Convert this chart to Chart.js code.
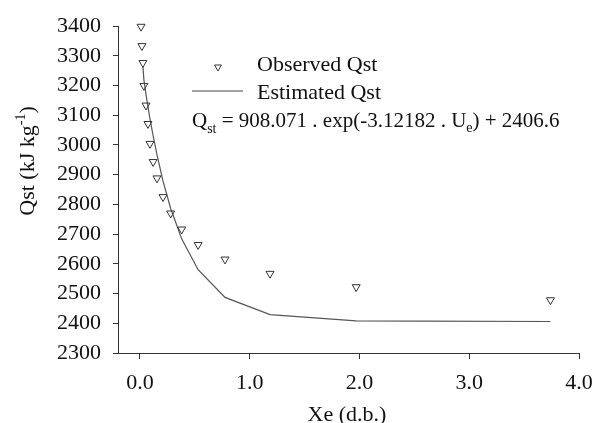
<!DOCTYPE html>
<html>
<head>
<meta charset="utf-8">
<script src="https://cdn.jsdelivr.net/npm/chart.js@4/dist/chart.umd.min.js"></script>
<style>
  html, body { margin: 0; padding: 0; background: #fff; }
  #wrap { width: 597px; height: 423px; }
</style>
</head>
<body>
<div id="wrap"><canvas id="chart" width="597" height="423"></canvas></div>
<script>
// values
const observedX = [0.01, 0.018, 0.027, 0.036, 0.055, 0.073, 0.091, 0.12, 0.155, 0.21, 0.28, 0.38, 0.53, 0.775, 1.185, 1.97, 3.74];
const observedY = [3398, 3333, 3276, 3199, 3133, 3071, 3004, 2943, 2888, 2825, 2770, 2716, 2664, 2615, 2567, 2522, 2478];
const estimatedX = [0.027, 0.036, 0.055, 0.073, 0.091, 0.12, 0.155, 0.21, 0.28, 0.38, 0.53, 0.775, 1.185, 1.97, 2.56, 3.74];
const estimatedY = [3265, 3218, 3170, 3128, 3088, 3031, 2967, 2878, 2786, 2684, 2580, 2487, 2429, 2408, 2407, 2406];
const xTicks = [0, 1, 2, 3, 4];
const yTicks = [2300, 2400, 2500, 2600, 2700, 2800, 2900, 3000, 3100, 3200, 3300, 3400];

const serif = '"Liberation Serif", "DejaVu Serif", serif';
const textColor = '#111';
const axisColor = '#333';

// legend, equation and axis titles (superscripts/subscripts) drawn on top
const labelsPlugin = {
  id: 'labels',
  afterDraw(chart) {
    const ctx = chart.ctx;
    ctx.save();
    ctx.fillStyle = textColor;
    ctx.textBaseline = 'alphabetic';
    ctx.textAlign = 'left';

    // legend: observed
    ctx.strokeStyle = axisColor;
    ctx.lineWidth = 1;
    const tx = 218, ty = 67, r = 4;
    ctx.beginPath();
    ctx.moveTo(tx - r * 0.87, ty - r * 0.5);
    ctx.lineTo(tx + r * 0.87, ty - r * 0.5);
    ctx.lineTo(tx, ty + r);
    ctx.closePath();
    ctx.stroke();
    ctx.font = '22px ' + serif;
    ctx.fillText('Observed Qst', 257, 71);

    // legend: estimated
    ctx.strokeStyle = '#444';
    ctx.lineWidth = 1.2;
    ctx.beginPath();
    ctx.moveTo(192, 91);
    ctx.lineTo(243, 91);
    ctx.stroke();
    ctx.fillText('Estimated Qst', 257, 99);

    // equation
    let x = 192;
    const base = 127;
    const big = '21px ' + serif, small = '14px ' + serif;
    const parts = [
      ['Q', big, 0], ['st', small, 6], [' = 908.071 . exp(-3.12182 . U', big, 0],
      ['e', small, 5], [') + 2406.6', big, 0],
    ];
    parts.forEach(([t, f, dy]) => {
      ctx.font = f;
      ctx.fillText(t, x, base + dy);
      x += ctx.measureText(t).width;
    });

    // x title
    ctx.font = '22px ' + serif;
    ctx.textAlign = 'center';
    ctx.fillText('Xe (d.b.)', 347, 421);

    // y title, rotated, with superscript
    ctx.translate(34, 161);
    ctx.rotate(-Math.PI / 2);
    const ySegs = [['Qst (kJ kg', '22px ' + serif, 0], ['-1', '14px ' + serif, -9], [')', '22px ' + serif, 0]];
    let w = 0;
    ySegs.forEach(([t, f]) => { ctx.font = f; w += ctx.measureText(t).width; });
    let px = -w / 2;
    ctx.textAlign = 'left';
    ySegs.forEach(([t, f, dy]) => {
      ctx.font = f;
      ctx.fillText(t, px, dy);
      px += ctx.measureText(t).width;
    });
    ctx.restore();
  },
};

new Chart(document.getElementById('chart'), {
  type: 'scatter',
  data: {
    datasets: [
      {
        label: 'Observed Qst',
        data: observedX.map((x, i) => ({ x, y: observedY[i] })),
        pointStyle: 'triangle',
        rotation: 180,
        pointRadius: 4.6,
        pointBorderWidth: 1,
        borderColor: axisColor,
        backgroundColor: 'rgba(255,255,255,0)',
        showLine: false,
        clip: false,
      },
      {
        label: 'Estimated Qst',
        data: estimatedX.map((x, i) => ({ x, y: estimatedY[i] })),
        showLine: true,
        pointRadius: 0,
        borderColor: '#555',
        borderWidth: 1.2,
        tension: 0,
      },
    ],
  },
  options: {
    responsive: false,
    animation: false,
    layout: { padding: { top: 26, right: 18, left: 0, bottom: 0 } },
    plugins: { legend: { display: false }, tooltip: { enabled: false } },
    scales: {
      x: {
        type: 'linear',
        min: -0.2,
        max: 4.0,
        afterBuildTicks(scale) { scale.ticks = xTicks.map(v => ({ value: v })); },
        afterFit(scale) {
          scale.height = 70;
          scale.paddingLeft = 0;
          scale.paddingRight = 0;
        },
        grid: { drawOnChartArea: false, drawTicks: true, tickLength: 6, color: axisColor },
        border: { color: axisColor, width: 1 },
        ticks: {
          color: textColor,
          font: { family: serif, size: 22 },
          padding: 11,
          maxRotation: 0,
          callback: v => Number(v).toFixed(1),
        },
      },
      y: {
        type: 'linear',
        min: 2300,
        max: 3400,
        afterBuildTicks(scale) { scale.ticks = yTicks.map(v => ({ value: v })); },
        afterFit(scale) {
          scale.width = 118;
          scale.paddingTop = 0;
          scale.paddingBottom = 0;
        },
        grid: { drawOnChartArea: false, drawTicks: true, tickLength: 5, color: axisColor },
        border: { color: axisColor, width: 1 },
        ticks: {
          color: textColor,
          font: { family: serif, size: 22 },
          padding: 12,
          callback: v => String(v),
        },
      },
    },
  },
  plugins: [labelsPlugin],
});
</script>
</body>
</html>
